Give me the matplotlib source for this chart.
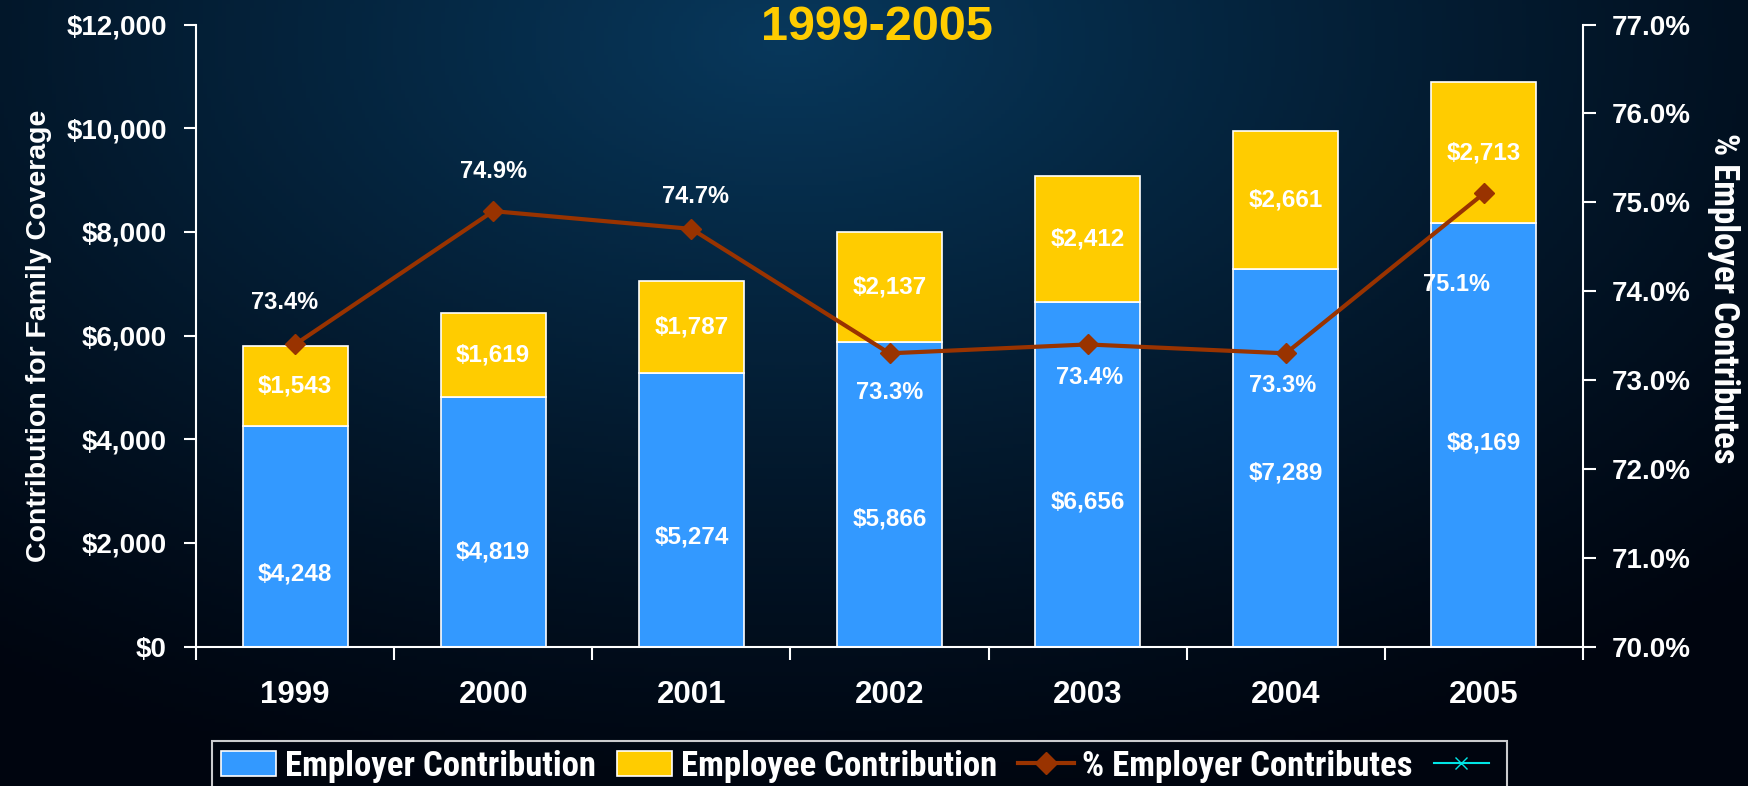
import numpy as np
import matplotlib
matplotlib.use("Agg")
import matplotlib.pyplot as plt
from matplotlib import font_manager
from matplotlib.patches import Patch
from matplotlib.lines import Line2D
from matplotlib.ticker import FuncFormatter, MultipleLocator

# ---- data ----
years = ["1999", "2000", "2001", "2002", "2003", "2004", "2005"]
employer = [4248, 4819, 5274, 5866, 6656, 7289, 8169]
employee = [1543, 1619, 1787, 2137, 2412, 2661, 2713]
pct_employer = [73.4, 74.9, 74.7, 73.3, 73.4, 73.3, 75.1]

# ---- layout constants ----
emp_label_frac = [0.33, 0.38, 0.40, 0.42, 0.42, 0.46, 0.48]
pct_offsets = [(-11, 42), (0, 40), (4, 32), (0, -39), (2, -33), (-3, -32), (-27, -91)]

available = {f.name for f in font_manager.fontManager.ttflist}
BOLD = "Liberation Sans" if "Liberation Sans" in available else "DejaVu Sans"
NARROW = BOLD
for cand in ["Liberation Sans Narrow", "Arial Narrow", "Roboto Condensed", "Asap Condensed",
             "Fira Sans Condensed", "Barlow Semi Condensed", "Archivo Narrow"]:
    if cand in available:
        NARROW = cand
        break
plt.rcParams["font.family"] = [BOLD, "DejaVu Sans"]

BLUE = "#3399FF"
YELLOW = "#FFCC00"
RED = "#993300"
WHITE = "white"

fig = plt.figure(figsize=(17.48, 7.86), dpi=100)

# background gradient
bg = fig.add_axes([0, 0, 1, 1], zorder=-10)
h, w = 200, 440
yy, xx = np.mgrid[0:1:h * 1j, 0:1:w * 1j]
d = np.sqrt(((xx - 0.45) / 0.78) ** 2 + ((yy - 0.05) / 1.0) ** 2)
t = np.clip(1 - d, 0, 1) ** 1.2
c_dark = np.array([0.0, 0.02, 0.06])
c_light = np.array([0.03, 0.22, 0.36])
img = c_dark[None, None, :] + (c_light - c_dark)[None, None, :] * t[..., None]
bg.imshow(img, aspect="auto", extent=[0, 1, 0, 1], origin="upper")
bg.axis("off")

ax = fig.add_axes([196 / 1748, 1 - 646.6 / 786, (1583 - 196) / 1748, (646.6 - 24.5) / 786])
ax.set_facecolor("none")
x = np.arange(len(years))
bw = 0.53
ax.bar(x, employer, bw, color=BLUE, edgecolor=WHITE, linewidth=1.2, zorder=2)
ax.bar(x, employee, bw, bottom=employer, color=YELLOW, edgecolor=WHITE, linewidth=1.2, zorder=2)
ax.set_xlim(-0.5, len(years) - 0.5)
ax.set_ylim(0, 12000)
ax.yaxis.set_major_locator(MultipleLocator(2000))
ax.yaxis.set_major_formatter(FuncFormatter(lambda v, p: f"${v:,.0f}"))
ax.set_xticks(x)
ax.set_xticklabels(years)
ax.set_xticks(np.arange(len(years) + 1) - 0.5, minor=True)
ax.tick_params(axis="x", which="major", length=0, pad=24, labelsize=22.5, labelcolor=WHITE)
ax.tick_params(axis="x", which="minor", length=9, width=1.5, color=WHITE, direction="out")
ax.tick_params(axis="y", length=9, width=1.5, color=WHITE, labelsize=20, labelcolor=WHITE, pad=12)
for lbl in ax.get_xticklabels() + ax.get_yticklabels():
    lbl.set_fontweight("bold")
for s in ["top", "right"]:
    ax.spines[s].set_visible(False)
for s in ["left", "bottom"]:
    ax.spines[s].set_color(WHITE)
    ax.spines[s].set_linewidth(1.5)
ax.set_ylabel("Contribution for Family Coverage", color=WHITE, fontsize=20.5, fontweight="bold", labelpad=10)

for i in range(len(years)):
    ax.text(x[i], employer[i] * emp_label_frac[i], f"${employer[i]:,}", color=WHITE,
            fontsize=17.5, fontweight="bold", ha="center", va="center", zorder=4)
    ax.text(x[i], employer[i] + employee[i] / 2, f"${employee[i]:,}", color=WHITE,
            fontsize=17.5, fontweight="bold", ha="center", va="center", zorder=4)

ax2 = ax.twinx()
ax2.set_ylim(70, 77)
ax2.yaxis.set_major_locator(MultipleLocator(1))
ax2.yaxis.set_major_formatter(FuncFormatter(lambda v, p: f"{v:.1f}%"))
ax2.plot(x, pct_employer, color=RED, linewidth=3, marker="D", markersize=10.5, zorder=5)
for s in ["top", "left", "bottom"]:
    ax2.spines[s].set_visible(False)
ax2.spines["right"].set_color(WHITE)
ax2.spines["right"].set_linewidth(1.5)
ax2.tick_params(axis="y", length=9, width=1.5, color=WHITE, labelsize=20, labelcolor=WHITE, pad=12)
for lbl in ax2.get_yticklabels():
    lbl.set_fontweight("bold")
ax2.set_ylabel("% Employer Contributes", color=WHITE, fontsize=25, fontweight="bold",
               rotation=-90, labelpad=30, family=[NARROW, "DejaVu Sans"])
ax2.yaxis.set_label_coords(1.113, 0.56)
for i in range(len(years)):
    dx, dy = pct_offsets[i]
    ax2.annotate(f"{pct_employer[i]:.1f}%", (x[i], pct_employer[i]), xytext=(dx, dy),
                 textcoords="offset pixels", ha="center", va="center", color=WHITE,
                 fontsize=17, fontweight="bold", zorder=6)

fig.text(877 / 1748, 1 - 27 / 786, "1999-2005", color=YELLOW, fontsize=35, fontweight="bold",
         ha="center", va="center")

handles = [
    Patch(facecolor=BLUE, edgecolor=WHITE, linewidth=1.2),
    Patch(facecolor=YELLOW, edgecolor=WHITE, linewidth=1.2),
    Line2D([], [], color=RED, linewidth=3, marker="D", markersize=11),
    Line2D([], [], color="#00E5E5", linewidth=1.5, marker="x", markersize=9),
]
labels = ["Employer Contribution", "Employee Contribution", "% Employer Contributes", ""]
leg = fig.legend(handles, labels, loc="upper left", bbox_to_anchor=(212 / 1748, 1 - 741 / 786),
                 borderaxespad=0, ncol=4, frameon=True, fancybox=False, handlelength=1.6,
                 handleheight=0.75, columnspacing=0.6, handletextpad=0.25, borderpad=0.25,
                 prop={"family": [NARROW, "DejaVu Sans"], "weight": "bold", "size": 25})
leg.get_frame().set_facecolor("none")
leg.get_frame().set_edgecolor(WHITE)
leg.get_frame().set_linewidth(1.5)
for t_ in leg.get_texts():
    t_.set_color(WHITE)

fig.savefig("out.png", dpi=100)
